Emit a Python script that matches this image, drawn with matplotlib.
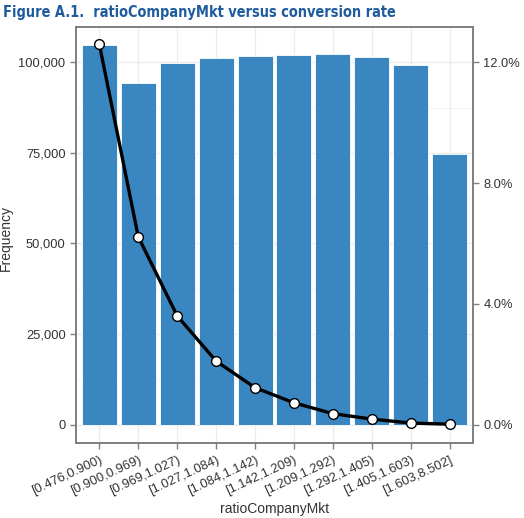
import matplotlib
matplotlib.use("Agg")
import matplotlib.pyplot as plt
from matplotlib.ticker import FuncFormatter, MultipleLocator

# binned ratioCompanyMkt, counts and conversion rate per bin
bins = ["[0.476,0.900)", "[0.900,0.969)", "[0.969,1.027)", "[1.027,1.084)",
        "[1.084,1.142)", "[1.142,1.209)", "[1.209,1.292)", "[1.292,1.405)",
        "[1.405,1.603)", "[1.603,8.502]"]
frequency = [104900, 94200, 99800, 101300, 101800, 102000, 102300, 101500, 99200, 74700]
conv_rate = [12.6, 6.22, 3.60, 2.10, 1.22, 0.72, 0.36, 0.18, 0.05, 0.01]

plt.rcParams["font.family"] = ["Liberation Sans", "DejaVu Sans"]
text_col = "#333333"
frame_col = "#7f7f7f"

fig = plt.figure(figsize=(5.24, 5.18), dpi=100)
ax = fig.add_axes([0.145, 0.1448, 0.7577, 0.8031])

x = list(range(len(bins)))
ymin, ymax = -5100, 109750

# light grid like ggplot theme_bw
for v in [12500, 37500, 62500, 87500]:
    ax.axhline(v, color="#f2f2f2", lw=0.6, zorder=0)
for v in [0, 25000, 50000, 75000, 100000]:
    ax.axhline(v, color="#ebebeb", lw=0.9, zorder=0)
for v in x:
    ax.axvline(v, color="#ebebeb", lw=0.9, zorder=0)

ax.bar(x, frequency, width=0.9, color="#3a86c0", edgecolor="white", linewidth=0.6, zorder=2)
ax.set_xlim(-0.6, 9.6)
ax.set_ylim(ymin, ymax)
ax.yaxis.set_major_locator(MultipleLocator(25000))
ax.yaxis.set_major_formatter(FuncFormatter(lambda v, p: f"{int(v):,}"))
ax.set_xticks(x)
ax.set_xticklabels(bins, rotation=25, ha="right", rotation_mode="anchor")
ax.set_ylabel("Frequency", fontsize=10, color=text_col)
ax.yaxis.set_label_coords(-0.16, 0.493)
ax.set_xlabel("ratioCompanyMkt", fontsize=10, color=text_col, labelpad=3)

ax2 = ax.twinx()
ax2.set_ylim(ymin * 12 / 100000, ymax * 12 / 100000)
ax2.plot(x, conv_rate, color="black", lw=2.4, zorder=3,
         marker="o", markersize=7, markerfacecolor="white",
         markeredgecolor="black", markeredgewidth=1.0)
ax2.set_yticks([0, 4, 8, 12])
ax2.yaxis.set_major_formatter(FuncFormatter(lambda v, p: f"{v:.1f}%"))

for a in (ax, ax2):
    for s in a.spines.values():
        s.set_color(frame_col)
        s.set_linewidth(1.2)
    a.tick_params(colors=frame_col, labelcolor=text_col, labelsize=9.3, length=4, width=1, pad=3.5)
ax.tick_params(axis="x", pad=4)

# title in a condensed bold face, shrunk to the reference width
title = fig.text(0.006, 0.975, "Figure A.1.  ratioCompanyMkt versus conversion rate",
                 fontsize=13.5, fontweight="bold", color="#1f5c9e", va="center", ha="left",
                 family="DejaVu Sans", fontstretch="condensed")
fig.canvas.draw()
w = title.get_window_extent().width
if w > 395:
    title.set_fontsize(13.5 * 395 / w)

fig.savefig("out.png", dpi=100)
